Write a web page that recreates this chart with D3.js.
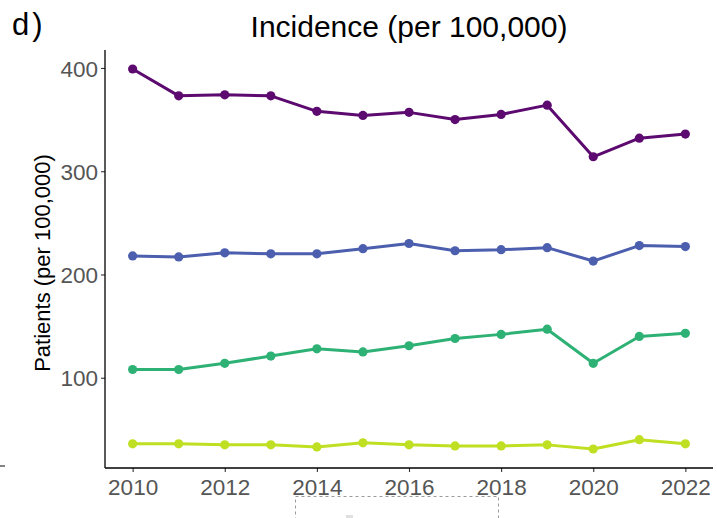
<!DOCTYPE html>
<html>
<head>
<meta charset="utf-8">
<script src="https://cdn.jsdelivr.net/npm/d3@7"></script>
<style>
  html, body { margin: 0; padding: 0; background: #fff; }
  svg { display: block; font-family: "Liberation Sans", Arial, sans-serif; }
</style>
</head>
<body>
<svg id="chart" width="717" height="518"></svg>
<script>
const years = [2010, 2011, 2012, 2013, 2014, 2015, 2016, 2017, 2018, 2019, 2020, 2021, 2022];
const seriesA = [399, 373, 374, 373, 358, 354, 357, 350, 355, 364, 314, 332, 336];
const seriesB = [218, 217, 221, 220, 220, 225, 230, 223, 224, 226, 213, 228, 227];
const seriesC = [108, 108, 114, 121, 128, 125, 131, 138, 142, 147, 114, 140, 143];
const seriesD = [36, 36, 35, 35, 33, 37, 35, 34, 34, 35, 31, 40, 36];
const seriesColors = ["#5C0A6F", "#4C5EAE", "#2EB174", "#BFDF22"];
const xTicks = [2010, 2012, 2014, 2016, 2018, 2020, 2022];
const yTicks = [100, 200, 300, 400];

const svg = d3.select("#chart");
const pLeft = 105, pRight = 713, pTop = 50, pBottom = 468;

const allVals = [].concat(seriesA, seriesB, seriesC, seriesD);
const yMin = d3.min(allVals), yMax = d3.max(allVals);
const yPad = (yMax - yMin) * 0.05;
const xPad = (d3.max(years) - d3.min(years)) * 0.05;

const x = d3.scaleLinear().domain([d3.min(years) - xPad, d3.max(years) + xPad]).range([pLeft, pRight]);
const y = d3.scaleLinear().domain([yMin - yPad, yMax + yPad]).range([pBottom, pTop]);

// Axes
const xAxis = d3.axisBottom(x).tickValues(xTicks).tickFormat(d3.format("d")).tickSizeOuter(0).tickSize(4).tickPadding(3);
const yAxis = d3.axisLeft(y).tickValues(yTicks).tickFormat(d3.format("d")).tickSizeOuter(0).tickSize(4).tickPadding(3);

const gx = svg.append("g").attr("transform", `translate(0,${pBottom})`).call(xAxis);
const gy = svg.append("g").attr("transform", `translate(${pLeft},0)`).call(yAxis);

[gx, gy].forEach(g => {
  g.select(".domain").remove();
  g.selectAll(".tick line").attr("stroke", "#333333").attr("stroke-width", 1.1);
  g.selectAll(".tick text").attr("fill", "#555555").style("font-size", "22.5px").style("font-family", '"Liberation Sans", Arial, sans-serif');
});
gx.selectAll(".tick text").attr("dy", "0.88em");
gy.selectAll(".tick text").attr("dy", "0.36em");

// axis lines
svg.append("line").attr("x1", pLeft).attr("x2", pLeft).attr("y1", pTop).attr("y2", pBottom)
  .attr("stroke", "#000").attr("stroke-width", 1.3);
svg.append("line").attr("x1", pLeft).attr("x2", pRight).attr("y1", pBottom).attr("y2", pBottom)
  .attr("stroke", "#000").attr("stroke-width", 1.3);

// Series
const allSeries = [seriesA, seriesB, seriesC, seriesD];
const line = d3.line().x((d, i) => x(years[i])).y(d => y(d));
allSeries.forEach((s, k) => {
  svg.append("path").datum(s).attr("d", line)
    .attr("fill", "none").attr("stroke", seriesColors[k]).attr("stroke-width", 3)
    .attr("stroke-linejoin", "round");
  svg.append("g").selectAll("circle").data(s).join("circle")
    .attr("cx", (d, i) => x(years[i])).attr("cy", d => y(d)).attr("r", 4.6)
    .attr("fill", seriesColors[k]);
});

// Title
svg.append("text").attr("x", (pLeft + pRight) / 2).attr("y", 37).attr("text-anchor", "middle")
  .style("font-size", "30px").attr("fill", "#000").text("Incidence (per 100,000)");

// Panel tag
svg.append("text").attr("x", 12).attr("y", 35)
  .style("font-size", "31px").style("letter-spacing", "3px").attr("fill", "#000").text("d)");

// Y label
svg.append("text").attr("transform", `translate(50,${(pTop + pBottom) / 2 + 4}) rotate(-90)`)
  .attr("text-anchor", "middle").style("font-size", "22px").attr("fill", "#000")
  .text("Patients (per 100,000)");

// stray tick at left edge (from neighbouring panel)
svg.append("line").attr("x1", 0).attr("x2", 5).attr("y1", 466).attr("y2", 466)
  .attr("stroke", "#333").attr("stroke-width", 1.2);

// cut-off legend box
svg.append("rect").attr("x", 295.5).attr("y", 496.5).attr("width", 203).attr("height", 40)
  .attr("fill", "none").attr("stroke", "#9a9a9a").attr("stroke-width", 1).attr("stroke-dasharray", "3,3");
svg.append("rect").attr("x", 346).attr("y", 515).attr("width", 7).attr("height", 3).attr("fill", "#e0e0e0");
</script>
</body>
</html>
